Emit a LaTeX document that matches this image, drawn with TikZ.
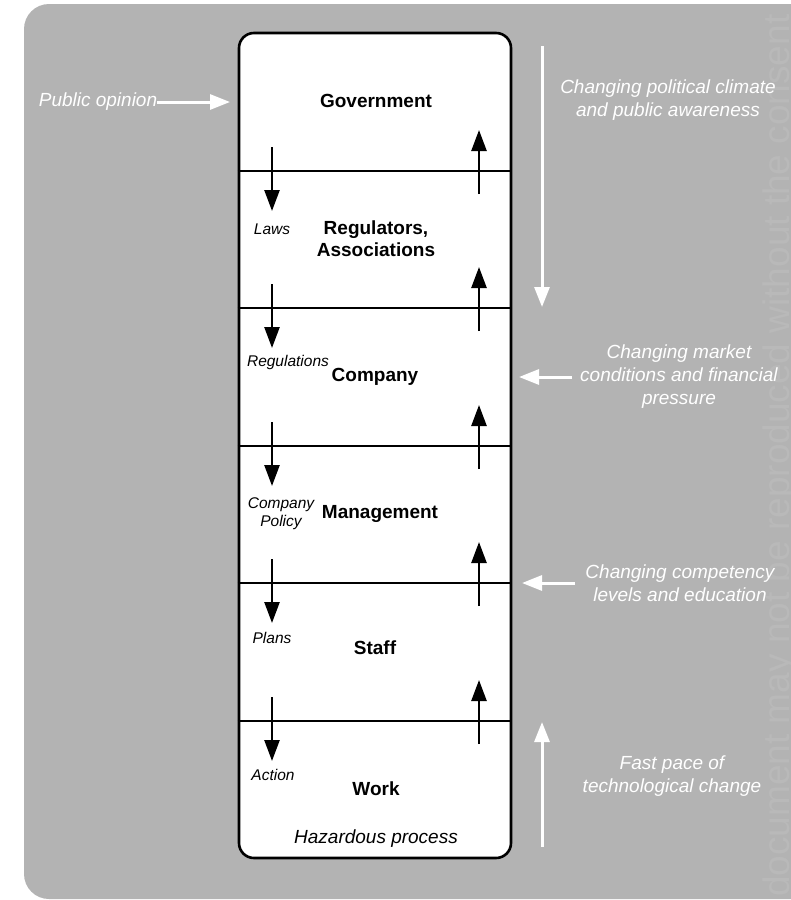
\documentclass[tikz,border=0pt]{standalone}
\usepackage{fontspec}
\setmainfont{Liberation Sans}
\usetikzlibrary{arrows.meta}
\definecolor{panel}{HTML}{B3B3B3}
\definecolor{wmark}{HTML}{B9B9B9}

\begin{document}
\begin{tikzpicture}[x=1pt,y=-1pt,
  level/.style={font=\fontsize{19}{22}\selectfont\bfseries, align=center, inner sep=0pt},
  flow/.style={font=\fontsize{15.5}{18}\selectfont\itshape, align=center, inner sep=0pt},
  process/.style={font=\fontsize{19}{22}\selectfont\itshape, inner sep=0pt},
  influence/.style={text=white, font=\fontsize{19}{23}\selectfont\itshape, align=center, inner sep=0pt},
  divider/.style={line width=2.2pt},
  blackarrow/.style={line width=2.5pt, -{Triangle[length=21pt,width=15pt]}},
  whitearrow/.style={draw=white, line width=3pt, -{Triangle[length=20pt,width=15pt,fill=white]}},
]
\useasboundingbox (0,0) rectangle (791,900);

% grey panel, running off the right edge
\begin{scope}
  \clip (0,0) rectangle (791,900);
  \fill[panel, rounded corners=25pt] (24,4) rectangle (840,899);
  \node[wmark, rotate=90, anchor=base west, inner sep=0pt,
        font=\fontsize{37}{40}\selectfont] (wm) at (789,897)
        {document may not be reproduced without the consent};
\end{scope}

% the hierarchy column
\node[draw, fill=white, rounded corners=15pt, line width=2.6pt,
      minimum width=272pt, minimum height=825pt, inner sep=0pt] (frame) at (375,445.5) {};

\foreach \y [count=\i] in {171,308,446,583,721} {
  \draw[divider] (frame.west |- 0,\y) -- (frame.east |- 0,\y);
  \coordinate (dtop\i) at (272,\y-24);
  \coordinate (dbot\i) at (272,\y+40);
  \coordinate (ubot\i) at (479,\y+23);
  \coordinate (utop\i) at (479,\y-41);
  \draw[blackarrow] (dtop\i) -- (dbot\i);
  \draw[blackarrow] (ubot\i) -- (utop\i);
}

% levels
\node[level] (gov)   at (376,101) {Government};
\node[level] (reg)   at (376,239) {Regulators,\\Associations};
\node[level] (comp)  at (375,377) {Company};
\node[level] (mgmt)  at (380,514) {Management};
\node[level] (staff) at (375,648) {Staff};
\node[level] (work)  at (376,789) {Work};
\node[process] (haz) at (376,839) {Hazardous process};

% what flows downwards
\node[flow] (laws)   at (272,229) {Laws};
\node[flow] (regs)   at (288,362) {Regulations};
\node[flow] (policy) at (281,514) {Company\\Policy};
\node[flow] (plans)  at (272,638) {Plans};
\node[flow] (action) at (273,775) {Action};

% external pressures
\node[influence] (pub)  at (98,102)  {Public opinion};
\node[influence] (pol)  at (668,100) {Changing political climate\\and public awareness};
\node[influence] (mkt)  at (679,377) {Changing market\\conditions and financial\\pressure};
\node[influence] (edu)  at (680,583) {Changing competency\\levels and education};
\node[influence] (tech) at (672,776) {Fast pace of\\technological change};

\coordinate (pubtip) at (230,102);
\coordinate (poltop) at (542,46);
\coordinate (poltip) at (542,307);
\coordinate (mktstart) at (572,377);
\coordinate (mkttip) at (519,377);
\coordinate (edustart) at (575,583);
\coordinate (edutip) at (522,583);
\coordinate (techstart) at (542,847);
\coordinate (techtip) at (542,722);

\draw[whitearrow] (pub.east) -- (pubtip);
\draw[whitearrow] (poltop) -- (poltip);
\draw[whitearrow] (mktstart) -- (mkttip);
\draw[whitearrow] (edustart) -- (edutip);
\draw[whitearrow] (techstart) -- (techtip);
\end{tikzpicture}
\end{document}
